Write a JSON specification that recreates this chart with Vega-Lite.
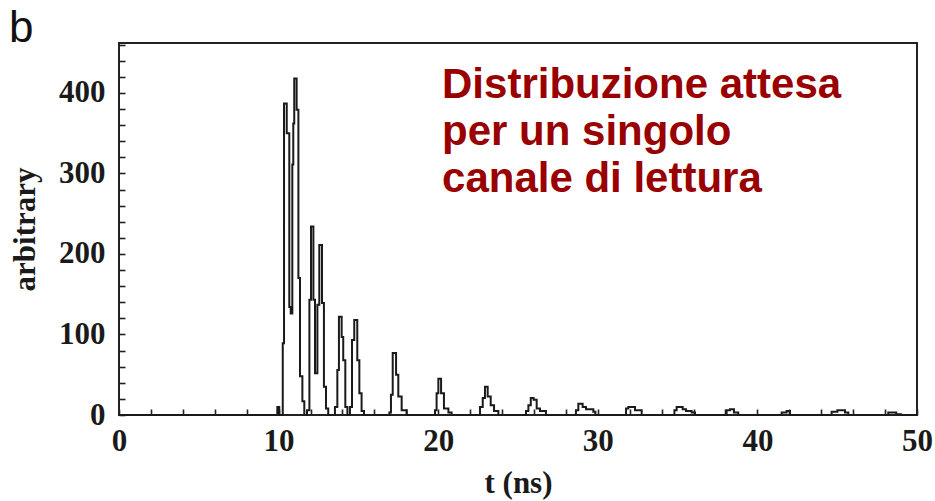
{
  "$schema": "https://vega.github.io/schema/vega-lite/v6.json",
  "width": 798,
  "height": 372,
  "autosize": {"type": "none"},
  "padding": {"left": 119, "top": 43, "right": 18, "bottom": 86},
  "background": "white",
  "config": {
    "view": {"stroke": "#222", "strokeWidth": 2},
    "axis": {
      "grid": false, "domain": false, "tickColor": "#222", "tickWidth": 1.6, "tickSize": -6, "tickCount": 100,
      "labelFont": "Liberation Serif", "labelFontWeight": "bold", "labelColor": "#1a1a1a",
      "titleFont": "Liberation Serif", "titleFontWeight": "bold", "titleFontSize": 31, "titleColor": "#1a1a1a",
      "labelOverlap": false, "labelFlush": false, "labelBound": false
    }
  },
  "layer": [
    {
      "data": {"values": [
        {"t": 0, "v": 0},
        {"t": 9.92, "v": 10}, {"t": 10.04, "v": 0},
        {"t": 10.26, "v": 89}, {"t": 10.34, "v": 387}, {"t": 10.51, "v": 350}, {"t": 10.67, "v": 134}, {"t": 10.76, "v": 126}, {"t": 10.86, "v": 311}, {"t": 10.92, "v": 362}, {"t": 10.98, "v": 418}, {"t": 11.13, "v": 379}, {"t": 11.24, "v": 170}, {"t": 11.34, "v": 48}, {"t": 11.49, "v": 17}, {"t": 11.61, "v": 0},
        {"t": 11.78, "v": 6}, {"t": 11.93, "v": 143}, {"t": 12.03, "v": 234}, {"t": 12.18, "v": 143}, {"t": 12.28, "v": 52}, {"t": 12.43, "v": 137}, {"t": 12.55, "v": 211}, {"t": 12.72, "v": 139}, {"t": 12.84, "v": 35}, {"t": 12.97, "v": 8}, {"t": 13.11, "v": 0},
        {"t": 13.53, "v": 10}, {"t": 13.68, "v": 56}, {"t": 13.78, "v": 122}, {"t": 13.95, "v": 97}, {"t": 14.05, "v": 68}, {"t": 14.18, "v": 10}, {"t": 14.31, "v": 0},
        {"t": 14.47, "v": 10}, {"t": 14.6, "v": 93}, {"t": 14.74, "v": 118}, {"t": 14.93, "v": 68}, {"t": 15.06, "v": 27}, {"t": 15.2, "v": 5}, {"t": 15.35, "v": 0},
        {"t": 16.94, "v": 3}, {"t": 17.04, "v": 25}, {"t": 17.15, "v": 77}, {"t": 17.36, "v": 50}, {"t": 17.5, "v": 23}, {"t": 17.71, "v": 6}, {"t": 18.03, "v": 0},
        {"t": 19.8, "v": 6}, {"t": 19.9, "v": 27}, {"t": 20.01, "v": 45}, {"t": 20.18, "v": 27}, {"t": 20.36, "v": 8}, {"t": 20.64, "v": 3}, {"t": 20.84, "v": 0},
        {"t": 22.62, "v": 10}, {"t": 22.79, "v": 21}, {"t": 22.93, "v": 35}, {"t": 23.1, "v": 23}, {"t": 23.29, "v": 12}, {"t": 23.5, "v": 5}, {"t": 23.77, "v": 0},
        {"t": 25.5, "v": 5}, {"t": 25.65, "v": 12}, {"t": 25.8, "v": 21}, {"t": 25.98, "v": 19}, {"t": 26.17, "v": 8}, {"t": 26.38, "v": 5}, {"t": 26.75, "v": 0},
        {"t": 28.63, "v": 6}, {"t": 28.78, "v": 14}, {"t": 29.05, "v": 10}, {"t": 29.26, "v": 7}, {"t": 29.72, "v": 4}, {"t": 29.85, "v": 0},
        {"t": 31.77, "v": 8}, {"t": 31.91, "v": 10}, {"t": 32.33, "v": 6}, {"t": 32.75, "v": 0},
        {"t": 34.8, "v": 6}, {"t": 34.94, "v": 10}, {"t": 35.32, "v": 7}, {"t": 35.53, "v": 5}, {"t": 35.88, "v": 3}, {"t": 36.09, "v": 0},
        {"t": 38.07, "v": 6}, {"t": 38.28, "v": 7}, {"t": 38.53, "v": 3}, {"t": 38.8, "v": 0},
        {"t": 41.52, "v": 3}, {"t": 41.83, "v": 5}, {"t": 42.04, "v": 0},
        {"t": 44.65, "v": 4}, {"t": 45.01, "v": 6}, {"t": 45.49, "v": 3}, {"t": 45.7, "v": 0},
        {"t": 48.2, "v": 3}, {"t": 48.7, "v": 1}, {"t": 49, "v": 0},
        {"t": 50, "v": 0}
      ]},
      "mark": {"type": "line", "interpolate": "step-after", "color": "#1a1a1a", "strokeWidth": 2},
      "encoding": {
        "x": {"field": "t", "type": "quantitative", "scale": {"domain": [0, 50], "nice": false, "zero": false},
          "axis": {"title": "t (ns)", "values": [0,2,4,6,8,10,12,14,16,18,20,22,24,26,28,30,32,34,36,38,40,42,44,46,48,50],
            "tickCount": 100, "format": "d",
            "labelExpr": "datum.value % 10 === 0 ? datum.label : ''",
            "labelFontSize": {"condition": {"test": "datum.value % 10 === 0", "value": 31}, "value": 0},
            "labelOverlap": false, "labelPadding": 17, "titlePadding": 12}},
        "y": {"field": "v", "type": "quantitative", "scale": {"domain": [0, 462], "nice": false},
          "axis": {"title": "arbitrary", "values": [0,20,40,60,80,100,120,140,160,180,200,220,240,260,280,300,320,340,360,380,400,420,440,460],
            "tickCount": 100, "format": "d",
            "labelExpr": "datum.value % 100 === 0 ? datum.label : ''",
            "labelFontSize": {"condition": {"test": "datum.value % 100 === 0", "value": 31}, "value": 0},
            "labelOverlap": false, "labelPadding": 20, "titlePadding": 17}}
      }
    },
    {
      "data": {"values": [{"t": 20.24, "v": 394, "label": "Distribuzione attesa|per un singolo|canale di lettura"}]},
      "mark": {"type": "text", "align": "left", "baseline": "alphabetic", "font": "Liberation Sans", "fontWeight": "bold", "fontSize": 42, "lineHeight": 47, "lineBreak": "|", "color": "#990000"},
      "encoding": {
        "x": {"field": "t", "type": "quantitative"},
        "y": {"field": "v", "type": "quantitative"},
        "text": {"field": "label"}
      }
    },
    {
      "data": {"values": [{"t": -6.9, "v": 463, "label": "b"}]},
      "mark": {"type": "text", "align": "left", "baseline": "alphabetic", "font": "Liberation Sans", "fontWeight": "normal", "fontSize": 44, "color": "#111", "clip": false},
      "encoding": {
        "x": {"field": "t", "type": "quantitative"},
        "y": {"field": "v", "type": "quantitative"},
        "text": {"field": "label"}
      }
    }
  ]
}
